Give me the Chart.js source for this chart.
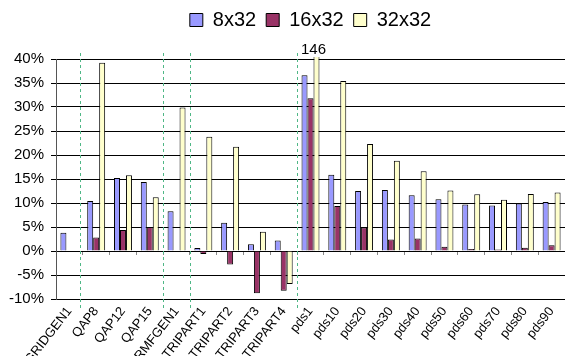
<!DOCTYPE html>
<html>
<head>
<meta charset="utf-8">
<script src="https://cdn.jsdelivr.net/npm/chart.js@4.4.1/dist/chart.umd.min.js"></script>
<style>
  html, body { margin: 0; padding: 0; background: #fff; }
  #wrap { width: 565px; height: 356px; }
</style>
</head>
<body>
<div id="wrap"><canvas id="c" width="565" height="356"></canvas></div>
<script>
const categories = ['GRIDGEN1','QAP8','QAP12','QAP15','RMFGEN1','TRIPART1','TRIPART2','TRIPART3','TRIPART4','pds1','pds10','pds20','pds30','pds40','pds50','pds60','pds70','pds80','pds90'];
const series8x32  = [3.8, 10.4, 15.2, 14.4, 8.3, 0.6, 5.9, 1.4, 2.2, 36.6, 15.9, 12.5, 12.7, 11.6, 10.8, 9.7, 9.5, 9.9, 10.2];
const series16x32 = [null, 2.8, 4.4, 5.0, 0.1, -0.6, -2.8, -8.8, -8.3, 31.8, 9.4, 4.9, 2.4, 2.6, 0.9, 0.4, 0.3, 0.7, 1.2];
const series32x32 = [null, 39.2, 15.8, 11.2, 29.9, 23.8, 21.7, 4.0, -6.9, 146, 35.4, 22.3, 18.8, 16.6, 12.6, 11.8, 10.7, 11.9, 12.2];
const seriesNames = ['8x32', '16x32', '32x32'];
const yMin = -10, yMax = 40, yStep = 5;
const separators = [0.4, 3.5, 4.5, 8.5];
const overflowPoint = { dataset: 2, index: 9, text: '146' };

const FONT = '"Liberation Sans", Arial, Helvetica, sans-serif';

const legendSpace = {
  id: 'legendSpace',
  beforeLayout(chart) {
    const lg = chart.legend;
    if (lg && !lg._patched) {
      const orig = lg.fit;
      lg.fit = function () { orig.apply(this, arguments); this.height = 59; };
      lg._patched = true;
    }
  }
};

const extras = {
  id: 'extras',
  beforeDatasetsDraw(chart) {
    const ctx = chart.ctx, x = chart.scales.x, a = chart.chartArea;
    ctx.save();
    ctx.strokeStyle = '#4fb786';
    ctx.lineWidth = 1;
    ctx.setLineDash([3, 3]);
    separators.forEach(v => {
      const p0 = x.getPixelForValue(Math.floor(v));
      const p1 = x.getPixelForValue(Math.floor(v) + 1);
      const px = Math.round(p0 + (p1 - p0) * (v - Math.floor(v))) + 0.5;
      ctx.beginPath();
      ctx.moveTo(px, a.top - 6);
      ctx.lineTo(px, a.bottom + 9);
      ctx.stroke();
    });
    ctx.restore();
  },
  afterDatasetsDraw(chart) {
    const ctx = chart.ctx, a = chart.chartArea;
    const el = chart.getDatasetMeta(overflowPoint.dataset).data[overflowPoint.index];
    ctx.save();
    ctx.fillStyle = '#000';
    ctx.font = '15px ' + FONT;
    ctx.textAlign = 'center';
    ctx.textBaseline = 'bottom';
    ctx.fillText(overflowPoint.text, el.x - 3, a.top - 2);
    ctx.restore();
  }
};

new Chart(document.getElementById('c'), {
  type: 'bar',
  data: {
    labels: categories,
    datasets: [
      { label: seriesNames[0], data: series8x32,  backgroundColor: '#9999ff', borderColor: '#000', borderWidth: 1, clip: 2 },
      { label: seriesNames[1], data: series16x32, backgroundColor: '#993366', borderColor: '#000', borderWidth: 1, clip: 2 },
      { label: seriesNames[2], data: series32x32, backgroundColor: '#ffffcc', borderColor: '#000', borderWidth: 1, clip: 2 }
    ]
  },
  options: {
    responsive: false,
    animation: false,
    devicePixelRatio: 1,
    layout: { padding: { top: 0, left: 0, right: 0, bottom: 0 } },
    datasets: { bar: { categoryPercentage: 0.67, barPercentage: 1.0 } },
    plugins: {
      legend: {
        position: 'top',
        fullSize: false,
        labels: {
          boxWidth: 13, boxHeight: 13, padding: 10,
          color: '#000',
          font: { family: FONT, size: 20 }
        }
      },
      tooltip: { enabled: false }
    },
    scales: {
      x: {
        type: 'category',
        offset: true,
        grid: { display: false, drawTicks: false },
        border: { display: false },
        ticks: {
          color: '#000', autoSkip: false, minRotation: 52, maxRotation: 52, padding: 5,
          font: { family: FONT, size: 13 }
        },
        afterFit(s) { s.height = 57; s.paddingLeft = 0; s.paddingRight = 0; }
      },
      x2: {
        type: 'category',
        labels: categories,
        position: { y: 0 },
        offset: true,
        grid: { drawOnChartArea: false, drawTicks: true, tickLength: 4, offset: true, color: '#888' },
        border: { display: false },
        ticks: { display: false }
      },
      y: {
        min: yMin, max: yMax,
        ticks: {
          stepSize: yStep, color: '#000', padding: 7,
          font: { family: FONT, size: 15 },
          callback: v => v + '%'
        },
        grid: { color: '#000', lineWidth: 1, tickLength: 5 },
        border: { color: '#555', width: 1 },
        afterFit(s) { s.width = 56; s.paddingTop = 0; s.paddingBottom = 0; }
      }
    }
  },
  plugins: [legendSpace, extras]
});
</script>
</body>
</html>
